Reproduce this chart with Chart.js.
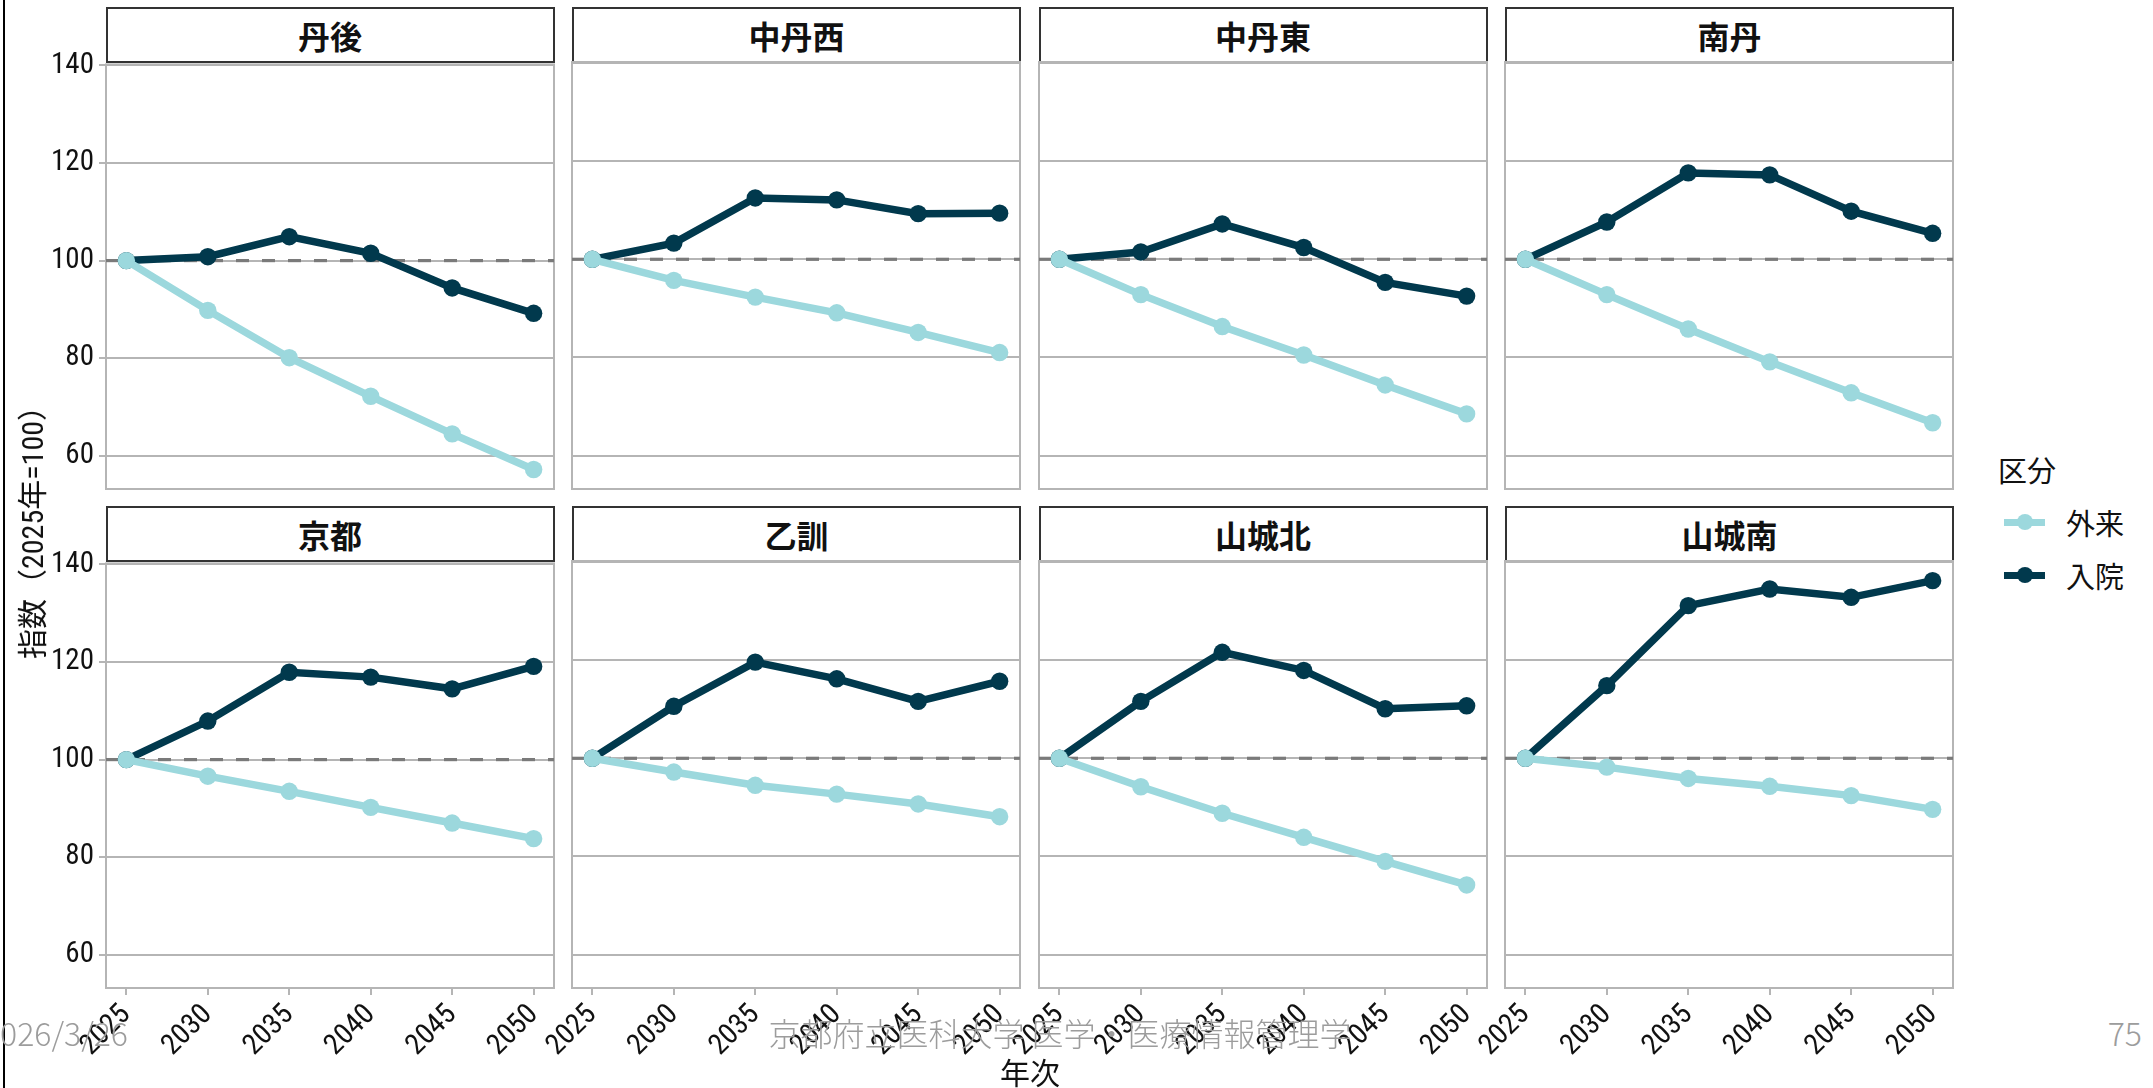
<!DOCTYPE html>
<html>
<head>
<meta charset="utf-8">
<script src="https://cdn.jsdelivr.net/npm/chart.js@4/dist/chart.umd.min.js"></script>
<style>
  html, body { margin:0; padding:0; background:#fff; }
  body { width:2153px; height:1088px; position:relative; overflow:hidden; font-family:"Noto Sans CJK JP","Noto Sans",sans-serif; }
  canvas { position:absolute; }
  .strip { position:absolute; box-sizing:border-box; border:2px solid #333; background:#fff;
           display:flex; align-items:center; justify-content:center;
           font-family:"Noto Sans CJK JP",sans-serif; font-weight:700; font-size:32px; color:#111; }
  .txt { position:absolute; white-space:nowrap; color:#111; }
  .wm { position:absolute; white-space:nowrap; color:#9c9c9c; font-family:"Noto Sans CJK JP",sans-serif; font-weight:300; font-size:32px; transform:translateY(-50%); z-index:10; }
  .legsym { position:absolute; width:41px; height:16px; }
  .legsym .ln { position:absolute; left:0; right:0; top:4.5px; height:7px; }
  .legsym .pt { position:absolute; left:13px; top:0; width:16px; height:16px; border-radius:50%; }
</style>
</head>
<body>
<div style="position:absolute;left:3px;top:0;width:2px;height:1088px;background:#000;"></div>
<script>
// ---------------- data ----------------
const years = [2025, 2030, 2035, 2040, 2045, 2050];
const regions = ['丹後', '中丹西', '中丹東', '南丹', '京都', '乙訓', '山城北', '山城南'];
const seriesNames = ['外来', '入院'];
const yTicks = [60, 80, 100, 120, 140];
const refValue = 100;

const outpatient = [
  [100, 89.8, 80.1, 72.2, 64.5, 57.2],   // 丹後
  [100, 95.7, 92.3, 89.1, 85.1, 81.0],   // 中丹西
  [100, 92.8, 86.3, 80.5, 74.4, 68.5],   // 中丹東
  [100, 92.8, 85.8, 79.1, 72.8, 66.7],   // 南丹
  [100, 96.6, 93.5, 90.2, 87.0, 83.8],   // 京都
  [100, 97.2, 94.5, 92.7, 90.7, 88.1],   // 乙訓
  [100, 94.2, 88.8, 83.9, 79.0, 74.2],   // 山城北
  [100, 98.2, 95.9, 94.3, 92.4, 89.6]    // 山城南
];
const inpatient = [
  [100, 100.8, 104.9, 101.5, 94.4, 89.2],  // 丹後
  [100, 103.3, 112.5, 112.1, 109.3, 109.4],// 中丹西
  [100, 101.5, 107.2, 102.4, 95.3, 92.5],  // 中丹東
  [100, 107.6, 117.6, 117.2, 109.8, 105.3],// 南丹
  [100, 107.9, 117.9, 116.9, 114.5, 119.1],// 京都
  [100, 110.6, 119.6, 116.2, 111.6, 115.7],// 乙訓
  [100, 111.6, 121.6, 117.9, 110.1, 110.7],// 山城北
  [100, 114.8, 131.1, 134.5, 132.8, 136.2] // 山城南
];

// ---------------- style ----------------
const colLight = '#9cd8dd';
const colDark = '#01394d';
const gridColor = '#b5b5b5';
const tickFont = { family: "'Liberation Sans Narrow','Roboto Condensed','DejaVu Sans Condensed','Arial Narrow',sans-serif", size: 29 };
const tickColor = '#111';

const xMin = 2023.75, xMax = 2051.25;
const yMin = 53.2, yMax = 140.2;

const panelLeft = [105.5, 572, 1038.5, 1505];
const panelW = 448;
const rowTop = [62, 561];
const panelH = 427;
const stripH = 55;
const L = 100, T = 20, R = 30, B = 90;

const frame = {
  id: 'frame',
  beforeDatasetsDraw(chart) {
    const { ctx, chartArea: a } = chart;
    ctx.save();
    ctx.strokeStyle = gridColor;
    ctx.lineWidth = 2;
    ctx.strokeRect(a.left, a.top, a.right - a.left, a.bottom - a.top);
    ctx.restore();
  }
};

regions.forEach((name, i) => {
  const r = Math.floor(i / 4), c = i % 4;
  const showY = c === 0, showX = r === 1;

  const s = document.createElement('div');
  s.className = 'strip';
  s.style.left = panelLeft[c] + 'px';
  s.style.top = (rowTop[r] - stripH) + 'px';
  s.style.width = (panelW + 1) + 'px';
  s.style.height = (stripH + 1) + 'px';
  s.textContent = name;
  document.body.appendChild(s);

  const cv = document.createElement('canvas');
  const w = panelW + L + R, h = panelH + T + B;
  cv.width = w; cv.height = h;
  cv.style.width = w + 'px'; cv.style.height = h + 'px';
  cv.style.left = (panelLeft[c] - L) + 'px';
  cv.style.top = (rowTop[r] - T) + 'px';
  document.body.appendChild(cv);

  const pts = arr => years.map((y, k) => ({ x: y, y: arr[k] }));

  new Chart(cv, {
    type: 'line',
    data: {
      datasets: [
        { label: seriesNames[0], data: pts(outpatient[i]), borderColor: colLight, backgroundColor: colLight,
          borderWidth: 7.5, pointRadius: 8.7, pointBorderWidth: 0, pointHoverRadius: 8.7, tension: 0 },
        { label: seriesNames[1], data: pts(inpatient[i]), borderColor: colDark, backgroundColor: colDark,
          borderWidth: 7.5, pointRadius: 8.7, pointBorderWidth: 0, pointHoverRadius: 8.7, tension: 0 },
        { label: 'ref', data: [{ x: xMin, y: refValue }, { x: xMax, y: refValue }], borderColor: '#7a7a7a',
          borderWidth: 3.2, borderDash: [13, 13], pointRadius: 0, tension: 0 }
      ]
    },
    options: {
      responsive: false,
      maintainAspectRatio: false,
      animation: false,
      devicePixelRatio: 1,
      layout: { padding: { top: T, right: R, left: 0, bottom: 0 } },
      plugins: { legend: { display: false }, tooltip: { enabled: false }, title: { display: false } },
      scales: {
        x: {
          type: 'linear', min: xMin, max: xMax,
          afterBuildTicks: sc => { sc.ticks = years.map(v => ({ value: v })); },
          afterFit: sc => { sc.height = B; },
          grid: { display: showX, drawOnChartArea: false, drawTicks: true, tickLength: 7, color: gridColor, lineWidth: 2 },
          border: { display: false },
          ticks: { display: showX, autoSkip: false, minRotation: 45, maxRotation: 45, font: tickFont, color: tickColor,
                    padding: 3, callback: v => String(v) }
        },
        y: {
          type: 'linear', min: yMin, max: yMax,
          afterBuildTicks: sc => { sc.ticks = yTicks.map(v => ({ value: v })); },
          afterFit: sc => { sc.width = L; },
          grid: { color: gridColor, lineWidth: 2, drawTicks: showY, tickLength: 7 },
          border: { display: false },
          ticks: { display: showY, font: tickFont, color: tickColor, padding: 5, callback: v => String(v) }
        }
      }
    },
    plugins: [frame]
  });
});
</script>

<!-- axis titles -->
<div class="txt" style="left:1030px;top:1071px;transform:translate(-50%,-50%);font-size:30px;">年次</div>
<div class="txt" style="left:30px;top:525px;transform:translate(-50%,-50%) rotate(-90deg);font-size:30px;font-family:'Liberation Sans Narrow','Roboto Condensed','Noto Sans CJK JP',sans-serif;">指数（2025年=100）</div>

<!-- legend -->
<div class="txt" style="left:1998px;top:469px;transform:translateY(-50%);font-size:29px;">区分</div>
<div class="legsym" style="left:2004px;top:514px;"><div class="ln" style="background:#9cd8dd"></div><div class="pt" style="background:#9cd8dd"></div></div>
<div class="txt" style="left:2066px;top:522px;transform:translateY(-50%);font-size:29px;">外来</div>
<div class="legsym" style="left:2004px;top:567px;"><div class="ln" style="background:#01394d"></div><div class="pt" style="background:#01394d"></div></div>
<div class="txt" style="left:2066px;top:575px;transform:translateY(-50%);font-size:29px;">入院</div>

<!-- footer overlay -->
<div class="wm" style="right:2025px;top:1032px;">2026/3/26</div>
<div class="wm" style="left:1060px;top:1032px;transform:translate(-50%,-50%);">京都府立医科大学 医学・医療情報管理学</div>
<div class="wm" style="right:11px;top:1032px;">75</div>
</body>
</html>
